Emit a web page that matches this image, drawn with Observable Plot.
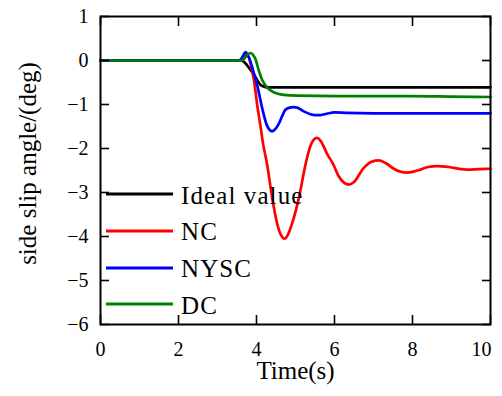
<!DOCTYPE html>
<html>
<head>
<meta charset="utf-8">
<script src="https://cdn.jsdelivr.net/npm/d3@7"></script>
<script src="https://cdn.jsdelivr.net/npm/@observablehq/plot@0.6"></script>
<style>
  html, body { margin: 0; padding: 0; background: #fff; }
  #wrap { position: relative; width: 502px; height: 396px; }
  #legend {
    position: absolute; left: 106px; top: 177.5px;
    font-family: "Liberation Serif", serif; font-size: 25px; color: #000;
    letter-spacing: 1.1px;
  }
  .item { display: flex; align-items: center; height: 36.67px; }
  .item svg { display: block; margin-right: 8px; position: relative; top: -1.5px; }
  g[aria-label="y-title"] text { letter-spacing: 1.2px; }
  g[aria-label="x-title"] text { letter-spacing: 0.3px; }
</style>
</head>
<body>
<div id="wrap"></div>
<script>
// Side slip angle (deg) against time (s) for each controller
const names = ["Ideal value", "NC", "NYSC", "DC"];
const colors = ["#000000", "#ff0000", "#0000ff", "#008000"];

const tIdeal = [0, 3.6, 3.68, 3.76, 3.85, 3.93, 4.02, 4.1, 4.18, 4.27, 4.4, 10];
const vIdeal = [0, 0, -0.03, -0.11, -0.22, -0.31, -0.45, -0.55, -0.59, -0.61, -0.61, -0.61];

const tNC = [0, 3.55, 3.65, 3.74, 3.8, 3.86, 3.93, 4.02, 4.1, 4.17, 4.27, 4.4, 4.53, 4.63, 4.72, 4.81, 4.91, 5.09, 5.26, 5.38, 5.47, 5.55, 5.64, 5.81, 5.98, 6.1, 6.25, 6.37, 6.5, 6.75, 6.95, 7.14, 7.33, 7.52, 7.7, 7.86, 8.05, 8.2, 8.4, 8.63, 8.85, 9.06, 9.25, 9.4, 9.7, 10];
const vNC = [0, 0, 0.06, 0.13, 0.08, -0.12, -0.42, -1.02, -1.48, -1.9, -2.35, -3.11, -3.71, -3.97, -4.05, -3.95, -3.71, -3.11, -2.35, -1.95, -1.8, -1.76, -1.82, -2.12, -2.38, -2.62, -2.78, -2.82, -2.76, -2.44, -2.3, -2.27, -2.34, -2.46, -2.53, -2.55, -2.52, -2.48, -2.42, -2.4, -2.41, -2.44, -2.47, -2.48, -2.47, -2.46];

const tNYSC = [0, 3.55, 3.62, 3.68, 3.72, 3.77, 3.85, 3.93, 4.02, 4.15, 4.27, 4.34, 4.4, 4.48, 4.57, 4.66, 4.74, 4.85, 4.95, 5.04, 5.2, 5.38, 5.5, 5.64, 5.8, 6.0, 6.3, 7, 10];
const vNYSC = [0, 0, 0.05, 0.15, 0.19, 0.14, -0.04, -0.28, -0.57, -1.1, -1.48, -1.58, -1.61, -1.56, -1.44, -1.26, -1.12, -1.07, -1.06, -1.07, -1.15, -1.22, -1.24, -1.24, -1.21, -1.18, -1.19, -1.2, -1.2];

const tDC = [0, 3.6, 3.67, 3.75, 3.85, 3.91, 3.97, 4.06, 4.15, 4.27, 4.44, 4.7, 5.04, 6, 8, 9, 10];
const vDC = [0, 0, 0.03, 0.12, 0.17, 0.13, 0.04, -0.23, -0.45, -0.61, -0.72, -0.78, -0.8, -0.81, -0.81, -0.82, -0.83];

const xTicks = [0, 2, 4, 6, 8, 10];
const yTicks = [-6, -5, -4, -3, -2, -1, 0, 1];
const xTitle = "Time(s)";
const yTitle = "side slip angle/(deg)";

const series = [[tIdeal, vIdeal], [tNC, vNC], [tNYSC, vNYSC], [tDC, vDC]]
  .map(([t, v], k) => ({name: names[k], color: colors[k], points: t.map((x, i) => ({t: x, v: v[i]}))}));

const tickOpts = {tickSize: -9, tickFormat: () => "", label: null, strokeWidth: 1.6, stroke: "black"};
const lastX = xTicks[xTicks.length - 1];

const chart = Plot.plot({
  width: 502,
  height: 396,
  marginLeft: 100,
  marginRight: 12,
  marginTop: 16,
  marginBottom: 72,
  style: {fontFamily: "Liberation Serif, serif", fontSize: "20px", color: "black", background: "white"},
  x: {domain: [0, 10]},
  y: {domain: [-6, 1]},
  marks: [
    ...series.map(s => Plot.line(s.points, {x: "t", y: "v", stroke: s.color, strokeWidth: 2.7, curve: "monotone-x"})),
    Plot.frame({stroke: "black", strokeWidth: 2}),
    Plot.axisX(xTicks, {anchor: "bottom", ...tickOpts}),
    Plot.axisX(xTicks, {anchor: "top", ...tickOpts}),
    Plot.axisY(yTicks, {anchor: "left", ...tickOpts}),
    Plot.axisY(yTicks, {anchor: "right", ...tickOpts}),
    Plot.axisX(xTicks.filter(d => d !== lastX), {anchor: "bottom", tickSize: 0, tickPadding: 17, label: null}),
    Plot.axisX([lastX], {anchor: "bottom", tickSize: 0, tickPadding: 17, dx: -9, label: null}),
    Plot.axisY(yTicks, {anchor: "left", tickSize: 0, tickPadding: 12, label: null}),
    Plot.text([xTitle], {frameAnchor: "bottom", dy: 54, lineAnchor: "bottom", textAnchor: "middle", fontSize: 25, ariaLabel: "x-title"}),
    Plot.text([yTitle], {frameAnchor: "left", rotate: -90, dx: -73, dy: -7, textAnchor: "middle", lineAnchor: "middle", fontSize: 25, ariaLabel: "y-title"})
  ]
});

const wrap = document.getElementById("wrap");
wrap.appendChild(chart);

// Legend drawn over the lower-left of the plot area
const legend = document.createElement("div");
legend.id = "legend";
for (const s of series) {
  const row = document.createElement("div");
  row.className = "item";
  row.innerHTML = `<svg width="67" height="6"><line x1="0" x2="67" y1="3" y2="3" stroke="${s.color}" stroke-width="3"/></svg><span>${s.name}</span>`;
  legend.appendChild(row);
}
wrap.appendChild(legend);
</script>
</body>
</html>
